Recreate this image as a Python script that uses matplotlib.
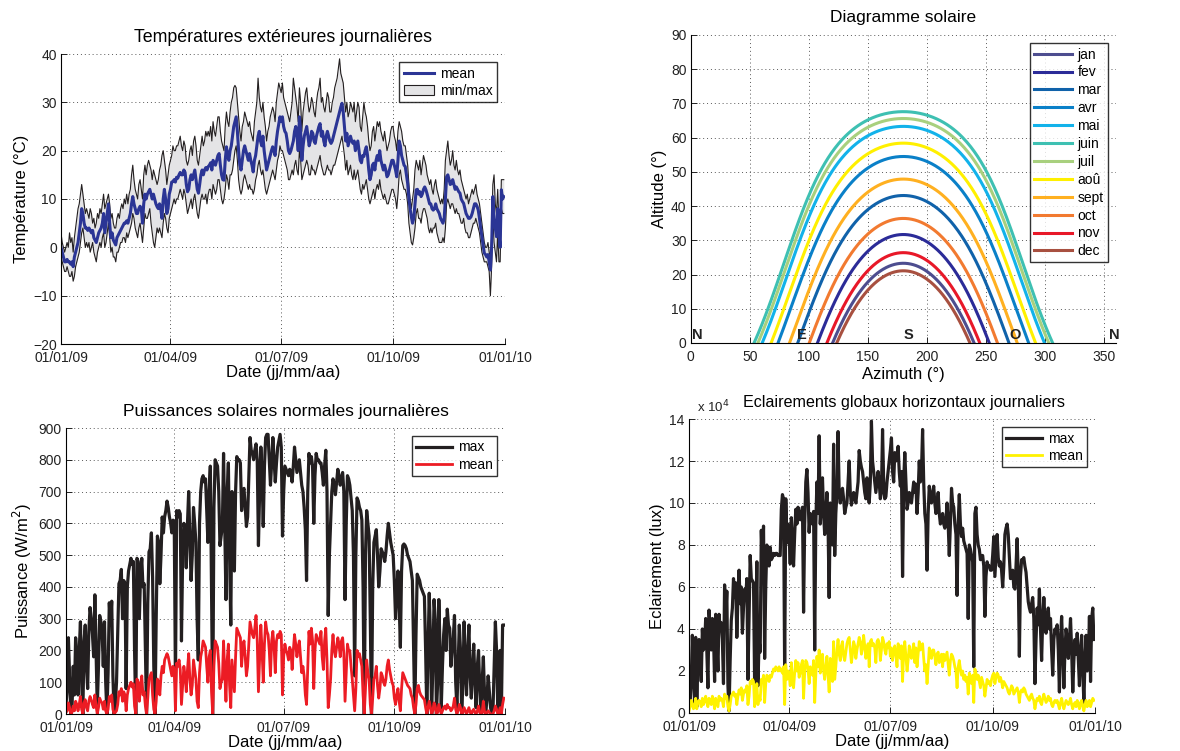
import numpy as np
import matplotlib
matplotlib.use("Agg")
import matplotlib.pyplot as plt
import matplotlib.dates as mdates
from matplotlib.patches import Patch
from matplotlib.lines import Line2D
import datetime as dt

plt.rcParams['font.family'] = ['Liberation Sans', 'DejaVu Sans']

# ---------------- data ----------------
start_date = dt.date(2009, 1, 1)
end_date = dt.date(2010, 1, 1)
date_ticks = [dt.date(2009, 1, 1), dt.date(2009, 4, 1), dt.date(2009, 7, 1),
              dt.date(2009, 10, 1), dt.date(2010, 1, 1)]

temp_mean = [
    0, -1, -2, -3, -3, -2.5, -3, -3, -3.5, -3,
    -4, -2, -1, 0, 1, 3, 5, 8, 7, 5,
    4, 4, 3.5, 4, 3.5, 3, 3.5, 2, 1.5, 1,
    2, 3, 3.5, 4, 5, 7, 3, 5, 7, 9,
    5, 2, 3, 1.5, 1, 0.5, 2, 2.5, 3, 3.5,
    4, 4.5, 5, 5, 5.5, 5, 6, 7, 9, 10.5,
    9, 8, 7, 7, 8, 8.5, 8, 5, 9, 11,
    10, 11, 11.5, 12, 11, 10, 11, 10, 9, 8.4,
    8, 9, 8, 6, 10, 12, 10, 7, 8, 11,
    12, 13.5, 13.6, 14, 13.5, 14.5, 14.3, 15, 15.5, 15,
    15, 16, 15.5, 13, 11.5, 12, 14, 15, 14, 15,
    16, 14, 12, 11.2, 13, 15, 16, 15, 16, 16.5,
    16, 16.7, 17, 17.5, 16, 18, 17.5, 17, 18, 19,
    19.4, 17, 15, 14, 13.9, 18, 20.8, 19, 18, 20,
    21, 23, 25, 26, 27, 24, 20, 17, 16, 18,
    20, 21, 20, 19, 18, 19.4, 18, 17, 15.6, 18,
    19, 21, 23, 24, 22, 21, 23, 20, 18, 16,
    17, 18, 19, 20, 20.8, 20, 19, 22, 24, 25.5,
    27, 26, 27, 25, 24, 23.6, 22, 20, 19.4, 20,
    21, 22, 24, 25, 23, 20, 27, 24, 18, 21,
    23, 24, 25, 23, 21, 22, 24, 23.6, 22, 21.5,
    23, 24, 25, 25.6, 23, 24, 22, 21, 23, 24,
    23, 22, 21.5, 22, 23, 24, 25, 26, 27, 28,
    29, 29.8, 28, 25, 22, 23.6, 21, 22, 23, 22,
    21.5, 22, 20, 21, 22, 20, 18, 17.5, 19, 18.8,
    20, 20.8, 19, 16, 14, 15, 17, 17.4, 16, 18,
    19, 18, 20, 18, 17, 16, 17, 16, 14.6, 15,
    16, 17, 18, 18, 17, 16, 14.6, 18, 22, 21,
    19, 18, 17, 16.7, 15, 13.2, 10, 8, 6.3, 5,
    6, 9, 11.9, 12, 11, 11.5, 10.5, 11, 12, 12.5,
    11.9, 11, 10, 9, 9, 8, 7.7, 8, 9, 8,
    7.5, 7, 6, 5.5, 5, 6, 10, 14.6, 15, 14,
    13, 13.2, 14, 13, 12, 12.5, 12, 11.5, 11.2, 10,
    9.5, 9.1, 8, 7, 6.5, 6, 6, 6.3, 7, 8,
    9, 9, 8.5, 7.7, 6, 4, 2.2, 0.5, -1.2, -1.5,
    -2, -1.5, -3, -4.7, 0, 10.5, 6, 4, 2.2, 8,
    3, 0, 11.9, 10, 10.5]

temp_max = [
    3, 1, 0, -1, 0, 1, 0, 3, 1, 2,
    -1, 2, 4, 6, 8, 9, 11, 13, 11, 9,
    7, 8, 7, 6, 8, 7, 5, 6, 4, 5,
    7, 6, 8, 7, 9, 11, 8, 9, 10, 11,
    9, 6, 7, 5, 4, 4, 6, 7, 6, 8,
    9, 8, 10, 9, 11, 9, 11, 12, 15, 17,
    14, 12, 11, 10, 13, 14, 12, 10, 15, 17,
    15, 17, 18, 17, 16, 14, 16, 15, 14, 13,
    14, 16, 17, 19, 20, 18, 16, 13, 15, 17,
    18, 19, 21, 20, 20, 21, 21, 22, 23, 21,
    20, 22, 21, 18, 17, 18, 20, 21, 19, 22,
    23, 21, 18, 17, 19, 21, 23, 21, 22, 24,
    23, 24, 23, 25, 22, 26, 24, 23, 25, 27,
    27, 24, 22, 21, 20, 25, 28, 26, 25, 28,
    30, 31, 33, 33.5, 33, 30, 27, 24, 22, 25,
    26, 28, 27, 26, 25, 26, 24, 23, 22, 26,
    28, 30, 35, 31, 29, 28, 30, 27, 25, 22,
    24, 25, 27, 28, 29, 28, 26, 30, 32, 34,
    33, 32, 34, 31, 30, 29, 28, 27, 26, 28,
    30, 35, 33, 31, 29, 26, 33, 30, 24, 28,
    30, 32, 33, 30, 28, 29, 31, 30, 28, 27,
    30, 32, 33, 35, 30, 31, 29, 28, 30, 32,
    31, 28, 28, 30, 31, 33, 34, 35, 37, 39,
    36, 35, 34, 31, 28, 30, 27, 28, 30, 29,
    28, 30, 26, 28, 30, 29, 25, 24, 27, 30,
    28, 27, 25, 22, 20, 21, 24, 25, 22, 24,
    26, 25, 26, 24, 23, 22, 24, 22, 20, 21,
    22, 24, 25, 25, 23, 22, 20, 24, 26, 25,
    24, 22, 21, 21, 19, 17, 13, 10, 8, 10,
    12, 16, 18, 17, 16, 18, 15, 17, 19, 18,
    17, 15, 14, 13, 14, 12, 11, 13, 14, 12,
    11, 10, 9, 10, 9, 12, 18, 20, 22, 19,
    17, 18, 20, 17, 16, 18, 16, 15, 16, 14,
    13, 12, 11, 10, 11, 9, 10, 11, 12, 11,
    12, 13, 11, 10, 9, 7, 5, 3, 1, 0,
    0, 1, -1, -2, 2, 13, 15, 9, 7, 12,
    5, 2, 14, 14, 14]

temp_min = [
    -2, -3, -4, -5, -5, -4, -5, -6, -6, -5,
    -7, -6, -4, -3, -2, -1, 1, 3, 4, 2,
    0, 1, 0, 1, -1, 0, 1, -1, -2, -3,
    -1, 0, 1, 0, 2, 3, 0, 1, 3, 5,
    2, -1, 0, -2, -2, -3, -1, -1, 0, 1,
    1, 2, 2, 1, 3, 2, 3, 4, 5, 7,
    6, 4, 3, 2, 4, 5, 3, 1, 4, 7,
    6, 6, 7, 8, 5, 3, 1, 0, 2, 4,
    3, 4, 3, 2, 5, 7, 6, 4, 3, 6,
    7, 8, 9, 10, 9, 10, 10, 11, 12, 11,
    10, 12, 11, 9, 7, 8, 9, 10, 8, 10,
    11, 9, 7, 6, 8, 10, 11, 10, 10, 11,
    9, 11, 12, 12, 10, 13, 12, 11, 12, 14,
    14, 12, 10, 9, 10, 12, 15, 14, 12, 15,
    15, 16, 18, 20, 21, 18, 14, 12, 11, 12,
    14, 15, 14, 13, 12, 13, 12, 12, 11, 12,
    14, 15, 17, 18, 16, 15, 16, 14, 12, 11,
    12, 13, 14, 15, 16, 15, 14, 16, 18, 19,
    21, 20, 20, 19, 18, 17, 16, 14, 14, 15,
    16, 15, 17, 18, 16, 15, 20, 18, 14, 15,
    16, 17, 18, 17, 15, 15, 17, 16, 16, 15,
    16, 17, 18, 19, 17, 16, 15, 15, 16, 17,
    16, 16, 15, 16, 17, 17, 18, 19, 20, 21,
    22, 23, 21, 19, 16, 18, 15, 16, 17, 15,
    14, 16, 14, 15, 16, 14, 12, 11, 13, 12,
    13, 14, 12, 10, 9, 10, 11, 12, 10, 12,
    13, 12, 14, 12, 11, 10, 11, 10, 9, 9,
    10, 11, 12, 12, 11, 10, 8, 11, 15, 16,
    14, 13, 12, 12, 11, 9, 5, 3, 1, 0.5,
    2, 4, 7, 8, 6, 6, 5, 7, 8, 8,
    7, 6, 4, 3, 4, 3, 4, 4, 5, 3,
    2, 1, 1, 1, 2, 1, 4, 9, 10, 9,
    8, 9, 9, 8, 7, 8, 7, 7, 6, 5,
    5, 6, 4, 3, 3, 2, 2, 3, 4, 5,
    5, 6, 5, 4, 3, 1, -1, -2, -3, -3,
    -3, -4, -5, -10, -4, 6, 1, -1, -3, 3,
    -3, -3, 8, 7, 7]

# solar diagram: month names, colours and noon altitude (deg) read on the chart
months = ['jan', 'fev', 'mar', 'avr', 'mai', 'juin', 'juil', 'aoû', 'sept', 'oct', 'nov', 'dec']
month_colors = ['#4D4D8F', '#2B2B98', '#1062AA', '#0A80C8', '#12B2EA', '#3EC0B2',
                '#A8D07E', '#FFF000', '#FFB020', '#F27A30', '#E81828', '#A85040']
noon_altitude = [23.3, 31.7, 43.1, 54.5, 63.3, 67.6, 65.6, 58.4, 47.9, 36.4, 26.4, 21.1]
latitude = 46.5
cardinal_labels = ['N', 'E', 'S', 'O', 'N']
cardinal_az = [1, 90, 180, 270, 354]

power_max = [
    30, 80, 240, 120, 0, 20, 150, 60, 240, 180,
    60, 200, 290, 100, 0, 230, 280, 150, 80, 260,
    335, 300, 250, 180, 375, 200, 20, 150, 310, 290,
    260, 150, 290, 100, 0, 130, 350, 280, 355, 120,
    0, 30, 100, 250, 410, 420, 455, 300, 420, 410,
    80, 400, 450, 470, 490, 470, 480, 200, 0, 490,
    480, 300, 440, 490, 400, 410, 200, 0, 350, 510,
    520, 570, 430, 150, 0, 300, 560, 540, 410, 500,
    620, 570, 620, 640, 670, 650, 620, 600, 570, 610,
    600, 100, 640, 620, 640, 630, 230, 500, 600, 580,
    460, 600, 700, 550, 420, 500, 650, 600, 540, 300,
    170, 600, 700, 740, 750, 730, 740, 640, 540, 700,
    780, 400, 0, 650, 800, 790, 780, 700, 530, 560,
    590, 820, 600, 360, 700, 790, 500, 280, 700, 600,
    450, 700, 810, 800, 800, 790, 640, 700, 710, 650,
    590, 620, 750, 870, 830, 820, 800, 830, 850, 800,
    530, 700, 840, 750, 590, 780, 870, 880, 880, 800,
    720, 790, 870, 800, 730, 790, 840, 860, 880, 840,
    560, 700, 780, 770, 760, 750, 770, 760, 730, 780,
    840, 800, 760, 780, 800, 760, 720, 700, 650, 580,
    420, 700, 820, 790, 810, 780, 600, 750, 820, 800,
    800, 790, 790, 760, 720, 780, 830, 700, 310, 500,
    600, 700, 740, 720, 690, 730, 770, 750, 720, 740,
    760, 700, 360, 600, 750, 740, 720, 680, 640, 500,
    120, 500, 680, 670, 650, 640, 610, 400, 0, 500,
    640, 600, 560, 300, 0, 400, 540, 560, 580, 500,
    400, 450, 520, 510, 500, 480, 510, 560, 600, 570,
    540, 520, 500, 420, 300, 380, 450, 350, 210, 450,
    530, 535, 530, 520, 500, 490, 480, 450, 420, 200,
    0, 250, 440, 430, 420, 400, 390, 380, 370, 200,
    0, 200, 380, 250, 0, 150, 360, 300, 0, 100,
    360, 200, 20, 150, 250, 300, 200, 330, 280, 270,
    150, 200, 240, 310, 100, 20, 150, 280, 200, 0,
    100, 290, 150, 60, 200, 280, 120, 50, 150, 220,
    100, 20, 150, 200, 80, 0, 100, 180, 60, 0,
    50, 120, 70, 20, 0, 10, 150, 290, 200, 10,
    100, 200, 10, 280, 280]

power_mean = [
    5, 10, 35, 20, 0, 5, 25, 10, 40, 30,
    10, 30, 55, 15, 0, 35, 45, 20, 10, 40,
    55, 45, 30, 20, 60, 25, 0, 20, 50, 40,
    35, 15, 40, 10, 0, 15, 55, 40, 60, 15,
    0, 5, 10, 30, 70, 60, 80, 40, 70, 60,
    10, 60, 80, 90, 100, 85, 95, 25, 0, 110,
    100, 40, 90, 120, 60, 70, 25, 0, 50, 110,
    120, 130, 60, 15, 0, 40, 110, 100, 60, 120,
    150, 130, 170, 180, 190, 180, 160, 140, 120, 150,
    140, 10, 160, 150, 170, 140, 30, 90, 150, 120,
    70, 140, 190, 110, 60, 90, 170, 140, 110, 40,
    20, 130, 180, 200, 230, 220, 210, 150, 100, 180,
    200, 70, 0, 150, 230, 220, 210, 160, 80, 100,
    110, 230, 130, 40, 170, 220, 90, 20, 170, 120,
    70, 180, 270, 260, 250, 240, 150, 210, 230, 180,
    120, 150, 220, 290, 270, 250, 240, 270, 310, 230,
    70, 180, 280, 200, 100, 220, 290, 260, 250, 200,
    120, 230, 260, 210, 130, 230, 250, 240, 260, 250,
    60, 180, 220, 200, 190, 170, 210, 200, 140, 200,
    250, 220, 180, 210, 230, 180, 130, 150, 120, 60,
    30, 150, 260, 220, 270, 230, 80, 200, 250, 240,
    230, 220, 260, 180, 140, 230, 270, 170, 20, 60,
    110, 200, 250, 200, 180, 210, 240, 220, 180, 230,
    240, 190, 40, 130, 220, 200, 200, 150, 110, 60,
    10, 80, 200, 180, 190, 170, 150, 60, 0, 80,
    170, 130, 110, 30, 0, 50, 110, 120, 150, 90,
    50, 80, 130, 120, 100, 90, 110, 150, 170, 140,
    120, 100, 90, 50, 30, 60, 80, 40, 10, 80,
    130, 120, 110, 100, 90, 85, 80, 60, 50, 20,
    0, 30, 80, 90, 70, 60, 55, 50, 45, 20,
    0, 20, 40, 20, 0, 10, 35, 25, 0, 5,
    30, 15, 0, 10, 20, 25, 15, 30, 20, 20,
    10, 15, 25, 50, 15, 0, 10, 30, 20, 0,
    5, 20, 10, 0, 10, 20, 5, 0, 10, 15,
    5, 0, 10, 25, 5, 0, 5, 40, 5, 0,
    5, 10, 5, 0, 0, 0, 10, 25, 15, 0,
    5, 20, 0, 30, 50]

# illuminance values in units of 1e4 lux
illum_max = [
    0.8, 0.5, 1.5, 3.7, 2.0, 0.5, 3.6, 0.3, 2.5, 3.5,
    2.8, 1.5, 4.0, 3.0, 3.2, 4.5, 3.0, 1.2, 4.9, 4.0,
    3.0, 4.5, 3.8, 1.5, 4.7, 3.5, 2.0, 4.7, 4.0, 4.3,
    3.5, 1.4, 6.1, 4.5, 5.8, 1.3, 0.1, 2.5, 4.4, 5.0,
    6.4, 5.5, 6.2, 3.6, 5.5, 6.8, 5.2, 6.0, 3.8, 5.0,
    5.9, 5.5, 6.4, 1.6, 4.5, 7.5, 6.4, 6.3, 6.2, 1.4,
    4.0, 7.2, 1.3, 3.5, 2.9, 8.7, 7.0, 8.9, 2.6, 6.0,
    8.0, 7.5, 7.0, 7.9, 7.3, 7.4, 7.6, 7.5, 7.6, 7.6,
    7.5, 7.5, 7.5, 9.7, 10.4, 10.2, 1.9, 10.2, 8.1, 9.0,
    8.5, 7.1, 9.3, 8.0, 7.0, 8.5, 9.7, 9.0, 9.8, 9.5,
    9.2, 9.5, 9.8, 4.8, 9.0, 11.0, 11.6, 10.5, 8.6, 9.5,
    9.4, 9.0, 9.6, 3.0, 9.0, 11.0, 9.5, 13.2, 9.0, 10.0,
    11.2, 9.5, 8.5, 9.5, 10.5, 9.0, 5.5, 10.0, 9.0, 8.0,
    12.8, 7.5, 9.5, 10.5, 13.4, 10.5, 10.0, 10.5, 10.7, 10.2,
    9.5, 9.8, 10.0, 11.0, 12.0, 10.5, 9.9, 10.2, 10.5, 10.3,
    10.0, 10.5, 11.0, 12.5, 12.0, 11.7, 11.5, 11.0, 10.5, 10.2,
    11.2, 10.5, 10.0, 11.0, 13.9, 12.0, 11.5, 11.0, 10.5, 11.0,
    11.5, 11.0, 10.2, 10.5, 13.5, 11.0, 10.2, 10.3, 11.0, 11.5,
    12.0, 12.5, 13.1, 11.5, 11.0, 12.4, 12.0, 12.2, 12.7, 11.5,
    10.8, 11.5, 6.5, 11.0, 12.4, 11.0, 9.7, 10.0, 10.5, 10.2,
    10.0, 10.5, 11.0, 10.5, 10.9, 9.5, 10.5, 12.0, 11.0, 11.5,
    13.5, 11.0, 9.5, 9.0, 6.8, 9.5, 10.8, 10.2, 10.0, 10.5,
    10.8, 10.0, 9.5, 9.8, 10.5, 9.5, 9.0, 9.2, 9.5, 9.0,
    8.8, 9.2, 10.0, 9.0, 7.5, 9.0, 10.7, 10.0, 9.8, 9.0,
    8.5, 5.6, 9.0, 10.4, 9.0, 8.4, 8.8, 8.2, 8.0, 7.8,
    7.6, 4.5, 8.0, 7.8, 7.5, 7.2, 2.2, 9.5, 9.8, 8.5,
    8.0, 7.8, 7.3, 7.5, 7.5, 7.0, 4.6, 6.5, 7.2, 7.0,
    7.0, 6.8, 6.8, 7.5, 8.4, 6.5, 7.5, 8.5, 7.4, 7.0,
    7.2, 6.8, 6.0, 7.0, 8.5, 8.8, 9.0, 8.5, 7.5, 6.4,
    6.5, 6.8, 6.0, 5.9, 7.0, 8.3, 6.5, 2.7, 6.5, 7.3,
    7.3, 7.4, 7.0, 6.7, 6.0, 5.3, 5.0, 4.8, 5.2, 5.5,
    4.5, 1.4, 3.5, 5.0, 4.2, 5.9, 4.0, 2.5, 4.5, 5.5,
    4.5, 3.8, 4.5, 5.0, 4.0, 4.5, 3.0, 1.8, 3.5, 4.0,
    3.8, 4.2, 3.0, 1.0, 3.5, 4.6, 3.0, 1.2, 3.0, 4.0,
    3.5, 2.6, 3.5, 4.5, 3.0, 1.0, 2.5, 3.5, 2.8, 3.8,
    2.5, 1.3, 3.0, 3.7, 2.0, 0.5, 2.5, 3.7, 2.0, 2.5,
    4.6, 1.5, 4.5, 5.0, 3.5]

illum_mean = [
    0.1, 0.3, 0.6, 0.4, 0.2, 0.3, 0.7, 0.2, 0.5, 0.6,
    0.5, 0.3, 0.7, 0.4, 0.6, 0.8, 0.5, 0.3, 0.7, 0.6,
    0.4, 0.8, 0.6, 0.2, 0.7, 0.5, 0.3, 0.8, 0.6, 0.7,
    0.6, 0.3, 0.9, 0.7, 0.8, 0.3, 0.1, 0.4, 0.8, 0.9,
    1.0, 0.8, 0.9, 0.4, 0.8, 1.1, 0.9, 1.2, 0.6, 0.9,
    1.1, 1.0, 1.3, 0.4, 0.8, 1.5, 1.4, 1.6, 1.5, 0.3,
    0.8, 1.4, 0.4, 0.8, 0.6, 1.6, 1.5, 1.8, 0.5, 1.4,
    1.8, 1.7, 1.5, 1.8, 1.7, 1.9, 2.1, 2.0, 2.2, 2.1,
    2.0, 2.2, 2.0, 2.1, 1.9, 2.2, 0.4, 2.3, 1.6, 2.0,
    1.8, 1.3, 2.4, 1.5, 1.2, 1.9, 2.5, 2.0, 2.4, 1.7,
    1.9, 2.3, 2.5, 0.7, 1.9, 2.5, 2.4, 2.1, 1.4, 2.2,
    2.0, 1.8, 2.5, 0.5, 1.8, 2.7, 2.2, 3.0, 1.9, 2.4,
    2.8, 2.0, 1.6, 2.2, 2.7, 1.8, 1.0, 2.6, 2.0, 1.5,
    3.4, 1.6, 2.2, 3.0, 3.5, 2.8, 2.5, 3.2, 3.4, 2.7,
    2.5, 2.9, 3.3, 3.5, 3.6, 3.0, 2.4, 2.8, 3.4, 3.2,
    2.6, 3.0, 3.3, 3.6, 3.4, 2.8, 3.1, 3.7, 3.2, 2.6,
    3.0, 3.3, 2.2, 3.4, 3.5, 3.2, 3.3, 3.1, 2.4, 3.4,
    3.5, 3.3, 2.5, 3.0, 3.6, 3.4, 3.0, 2.8, 3.3, 3.1,
    3.4, 2.7, 3.1, 2.5, 2.9, 3.2, 2.8, 2.2, 3.3, 3.0,
    2.6, 3.2, 1.5, 2.9, 3.4, 2.7, 2.0, 2.5, 3.2, 2.8,
    2.6, 3.0, 3.3, 2.4, 3.1, 2.2, 2.8, 3.4, 3.0, 3.2,
    3.3, 2.6, 2.0, 2.3, 1.4, 2.2, 3.1, 2.8, 2.6, 3.0,
    3.0, 2.7, 2.3, 2.8, 2.9, 2.4, 2.6, 2.8, 2.2, 2.8,
    2.5, 2.7, 2.9, 2.3, 1.8, 2.5, 2.8, 2.7, 2.5, 2.2,
    2.0, 1.2, 2.2, 2.5, 2.1, 1.8, 2.0, 1.6, 1.8, 1.5,
    1.7, 0.9, 1.9, 1.6, 1.4, 1.8, 0.5, 2.1, 1.9, 1.6,
    1.8, 1.5, 1.2, 1.7, 1.5, 1.3, 0.8, 1.2, 1.6, 1.4,
    1.5, 1.3, 1.6, 1.8, 1.9, 1.4, 1.7, 1.9, 1.8, 1.5,
    1.7, 1.5, 1.2, 1.5, 1.4, 1.3, 1.2, 1.0, 0.9, 1.1,
    1.3, 1.2, 0.9, 1.0, 1.1, 1.2, 1.0, 0.5, 1.0, 1.1,
    1.0, 1.2, 1.1, 0.9, 0.8, 0.7, 0.6, 0.8, 0.9, 0.7,
    0.6, 0.2, 0.5, 0.7, 0.6, 0.8, 0.5, 0.4, 0.7, 0.9,
    0.7, 0.5, 0.6, 0.8, 0.6, 0.7, 0.4, 0.3, 0.5, 0.6,
    0.5, 0.6, 0.4, 0.2, 0.5, 0.7, 0.4, 0.2, 0.4, 0.6,
    0.5, 0.4, 0.5, 0.7, 0.4, 0.2, 0.4, 0.5, 0.3, 0.6,
    0.4, 0.2, 0.5, 0.6, 0.3, 0.1, 0.4, 0.6, 0.3, 0.4,
    0.6, 0.3, 0.5, 0.7, 0.6]

# ---------------- styling helpers ----------------
TICK_FS = 10
LABEL_FS = 12
TITLE_FS = 12.5
LEGEND_FS = 10
TITLE_PAD = 8.5
GRID_KW = dict(color='0.35', linestyle=(0, (1, 3)), linewidth=0.7)
BLUE = '#2B3595'
RED = '#EC1C24'
YELLOW = '#FFF200'
BLACK = '#231F20'


def dates_for(n):
    return [start_date + dt.timedelta(days=i) for i in range(n)]


def style_axes(ax):
    ax.spines['top'].set_visible(False)
    ax.spines['right'].set_visible(False)
    ax.spines['left'].set_linewidth(0.8)
    ax.spines['bottom'].set_linewidth(0.8)
    ax.tick_params(direction='in', length=4, width=0.7, labelsize=TICK_FS,
                   colors='#222222', pad=3)
    ax.tick_params(axis='x', pad=5)
    ax.grid(True, **GRID_KW)
    ax.set_axisbelow(True)


def style_date_axis(ax):
    ax.set_xlim(start_date, end_date)
    ax.set_xticks(date_ticks)
    ax.xaxis.set_major_formatter(mdates.DateFormatter('%d/%m/%y'))
    ax.set_xlabel('Date (jj/mm/aa)', fontsize=LABEL_FS, labelpad=0)


def legend(ax, handles, labels, loc, fs=LEGEND_FS, spacing=0.22, hl=2.6, **kw):
    lg = ax.legend(handles, labels, loc=loc, fontsize=fs, frameon=True,
                   fancybox=False, edgecolor='black', handlelength=hl,
                   borderpad=0.3, labelspacing=spacing, handletextpad=0.4,
                   borderaxespad=0.6, **kw)
    lg.get_frame().set_linewidth(1.0)
    return lg


fig = plt.figure(figsize=(11.8, 7.51), dpi=100)
W, H = 1180.0, 751.0


def px_axes(left, top, right, bottom):
    return fig.add_axes([left / W, 1 - bottom / H, (right - left) / W, (bottom - top) / H])


# ---------------- 1. temperatures ----------------
ax1 = px_axes(61, 54, 505, 344)
style_axes(ax1)
n = min(len(temp_min), len(temp_max))
d = dates_for(n)
ax1.fill_between(d, temp_min[:n], temp_max[:n], color='#E4E4E6', linewidth=0)
ax1.plot(dates_for(len(temp_max)), temp_max, color=BLACK, lw=0.8)
ax1.plot(dates_for(len(temp_min)), temp_min, color=BLACK, lw=0.8)
ax1.plot(dates_for(len(temp_mean)), temp_mean, color=BLUE, lw=2.2)
ax1.set_ylim(-20, 40)
ax1.set_yticks(range(-20, 41, 10))
style_date_axis(ax1)
ax1.set_ylabel('Température (°C)', fontsize=LABEL_FS, labelpad=3)
ax1.set_title('Températures extérieures journalières', fontsize=12.8, pad=TITLE_PAD)
legend(ax1, [Line2D([], [], color=BLUE, lw=2.2),
             Patch(facecolor='#E4E4E6', edgecolor=BLACK, linewidth=0.8)],
       ['mean', 'min/max'], 'upper right', hl=2.2)

# ---------------- 2. solar diagram ----------------
ax2 = px_axes(690.7, 35, 1116, 343)
style_axes(ax2)
phi = np.radians(latitude)
for name, col, hmax in zip(months, month_colors, noon_altitude):
    delta = np.radians(hmax - 90 + latitude)
    h0 = np.arccos(np.clip(-np.tan(phi) * np.tan(delta), -1, 1))
    H_ang = np.linspace(-h0, h0, 300)
    alt = np.degrees(np.arcsin(np.sin(phi) * np.sin(delta) +
                               np.cos(phi) * np.cos(delta) * np.cos(H_ang)))
    az = np.degrees(np.arctan2(np.sin(H_ang),
                               np.cos(H_ang) * np.sin(phi) - np.tan(delta) * np.cos(phi))) + 180
    ax2.plot(az, alt, color=col, lw=2.2, label=name)
for lab, a in zip(cardinal_labels, cardinal_az):
    ax2.text(a, 0.4, lab, fontsize=10.5, fontweight='bold', ha='left', va='bottom',
             color='#222222')
ax2.set_xlim(0, 360)
ax2.set_ylim(0, 90)
ax2.set_xticks(range(0, 351, 50))
ax2.set_yticks(range(0, 91, 10))
ax2.set_xlabel('Azimuth (°)', fontsize=LABEL_FS, labelpad=2)
ax2.set_ylabel('Altitude (°)', fontsize=LABEL_FS, labelpad=3)
ax2.set_title('Diagramme solaire', fontsize=TITLE_FS, pad=TITLE_PAD + 1)
h2, l2 = ax2.get_legend_handles_labels()
legend(ax2, h2, l2, 'upper right', fs=10, spacing=0.28, hl=2.7)

# ---------------- 3. solar power ----------------
ax3 = px_axes(66, 428, 505, 714)
style_axes(ax3)
ax3.plot(dates_for(len(power_max)), power_max, color=BLACK, lw=2.3, label='max')
ax3.plot(dates_for(len(power_mean)), power_mean, color=RED, lw=2.0, label='mean')
ax3.set_ylim(0, 900)
ax3.set_yticks(range(0, 901, 100))
style_date_axis(ax3)
ax3.set_ylabel('Puissance (W/m$^2$)', fontsize=LABEL_FS, labelpad=3)
ax3.set_title('Puissances solaires normales journalières', fontsize=TITLE_FS, pad=TITLE_PAD)
h3, l3 = ax3.get_legend_handles_labels()
legend(ax3, h3, l3, 'upper right')

# ---------------- 4. illuminance ----------------
ax4 = px_axes(689, 419, 1095, 713)
style_axes(ax4)
ax4.plot(dates_for(len(illum_max)), illum_max, color=BLACK, lw=2.3, label='max')
ax4.plot(dates_for(len(illum_mean)), illum_mean, color=YELLOW, lw=2.0, label='mean')
ax4.set_ylim(0, 14)
ax4.set_yticks(range(0, 15, 2))
style_date_axis(ax4)
ax4.set_ylabel('Eclairement (lux)', fontsize=LABEL_FS, labelpad=3)
ax4.set_title('Eclairements globaux horizontaux journaliers', fontsize=11.6,
              pad=TITLE_PAD, x=(904 - 689) / 406.0)
ax4.text(0.02, 1.012, 'x 10$^4$', transform=ax4.transAxes, fontsize=9.5, ha='left',
         va='bottom', color='#222222')
h4, l4 = ax4.get_legend_handles_labels()
legend(ax4, h4, l4, 'upper right')

fig.savefig('out.png', dpi=100)
